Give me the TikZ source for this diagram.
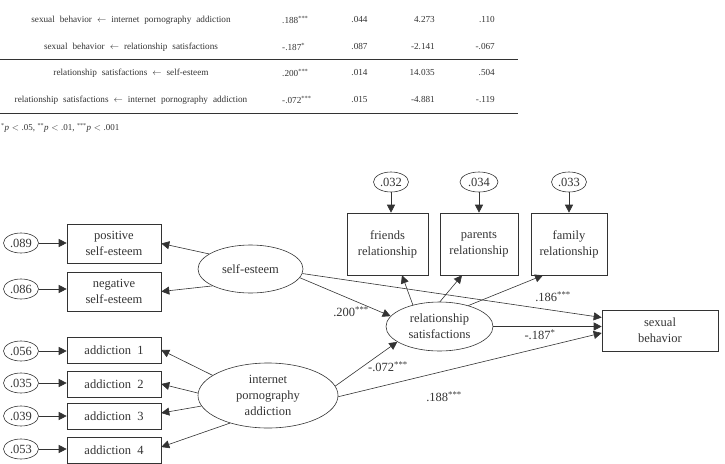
\documentclass[tikz,border=0pt]{standalone}
\usepackage{fontspec}
\setmainfont{Liberation Serif}
\usetikzlibrary{arrows.meta,calc,shapes.geometric}
\definecolor{ink}{HTML}{333333}
\newcommand{\sig}[1]{\textsuperscript{#1}}
\newcommand{\tabfont}{\fontsize{9.2}{11}\selectfont\spaceskip=5pt plus 1pt\relax}
\newcommand{\notefont}{\fontsize{9}{11}\selectfont\spaceskip=2.6pt\relax}
\newcommand{\diafont}{\fontsize{12.5}{16}\selectfont}
\begin{document}
\begin{tikzpicture}[x=1pt,y=-1pt,
  every node/.style={text=ink},
  dfont/.style={font=\diafont},
  tfont/.style={font=\tabfont},
  obs/.style={dfont, draw=ink, line width=0.6pt, inner sep=0pt, align=center, minimum width=94pt},
  err/.style={dfont, ellipse, draw=ink, line width=0.6pt, inner sep=0pt, minimum width=35pt, minimum height=20pt},
  lat/.style={dfont, ellipse, draw=ink, line width=0.6pt, inner sep=0pt, align=center},
  arr/.style={draw=ink, line width=0.6pt, -{Triangle[length=8pt,width=8pt]}},
  lbl/.style={dfont, inner sep=0pt},
  cell/.style={tfont, inner sep=0pt},
]
\useasboundingbox (0,0) rectangle (725,463);

% ---- coefficient table ----
\node[cell] (r1a) at (131,20) {sexual behavior $\leftarrow$ internet pornography addiction};
\node[cell] (r2a) at (131,47) {sexual behavior $\leftarrow$ relationship satisfactions};
\node[cell] (r3a) at (131,73) {relationship satisfactions $\leftarrow$ self-esteem};
\node[cell] (r4a) at (131,100) {relationship satisfactions $\leftarrow$ internet pornography addiction};

\node[cell, anchor=west] (r1b) at (282,20) {.188\sig{***}};
\node[cell, anchor=west] (r2b) at (282,47) {-.187\sig{*}};
\node[cell, anchor=west] (r3b) at (282,73) {.200\sig{***}};
\node[cell, anchor=west] (r4b) at (282,100) {-.072\sig{***}};

\node[cell] (r1c) at (359.5,20) {.044};
\node[cell] (r2c) at (359.5,47) {.087};
\node[cell] (r3c) at (359.5,73) {.014};
\node[cell] (r4c) at (359.5,100) {.015};

\node[cell, anchor=east] (r1d) at (435,20) {4.273};
\node[cell, anchor=east] (r2d) at (435,47) {-2.141};
\node[cell, anchor=east] (r3d) at (435,73) {14.035};
\node[cell, anchor=east] (r4d) at (435,100) {-4.881};

\node[cell, anchor=east] (r1e) at (495,20) {.110};
\node[cell, anchor=east] (r2e) at (495,47) {-.067};
\node[cell, anchor=east] (r3e) at (495,73) {.504};
\node[cell, anchor=east] (r4e) at (495,100) {-.119};

\draw[ink, line width=0.7pt] (0,59) -- (518,59);
\draw[ink, line width=1.5pt] (0,113.5) -- (518,113.5);

\node[font=\notefont, inner sep=0pt, anchor=west] (note) at (1,128) {\sig{*}\textit{p} $<$ .05, \sig{**}\textit{p} $<$ .01, \sig{***}\textit{p} $<$ .001};

% ---- measurement model: self-esteem ----
\node[err] (e089) at (21,243) {.089};
\node[obs, minimum height=39pt] (pos) at (114,243.5) {positive\\self-esteem};
\node[err] (e086) at (21,289) {.086};
\node[obs, minimum height=39pt] (neg) at (114,291.5) {negative\\self-esteem};
\node[lat, minimum width=105pt, minimum height=48pt] (se) at (250.5,269) {self-esteem};

% ---- measurement model: addiction ----
\node[err] (e056) at (21,351) {.056};
\node[obs, minimum height=26pt] (a1) at (114,350) {addiction\ \ 1};
\node[err] (e035) at (21,383) {.035};
\node[obs, minimum height=26pt] (a2) at (114,384) {addiction\ \ 2};
\node[err] (e039) at (21,416) {.039};
\node[obs, minimum height=26pt] (a3) at (114,416) {addiction\ \ 3};
\node[err] (e053) at (21,449) {.053};
\node[obs, minimum height=26pt] (a4) at (114,450) {addiction\ \ 4};
\node[lat, minimum width=140pt, minimum height=65pt] (ipa) at (268,395.5) {internet\\pornography\\addiction};

% ---- measurement model: relationship satisfactions ----
\node[lat, minimum width=107pt, minimum height=49pt] (rs) at (439.5,326.5) {relationship\\satisfactions};
\node[obs, minimum width=81pt, minimum height=62pt] (fr) at (387.5,244) {friends\\relationship};
\node[obs, minimum width=78pt, minimum height=62pt] (pr) at (479,244) {parents\\relationship};
\node[obs, minimum width=76pt, minimum height=62pt] (fa) at (569,244) {family\\relationship};
\node[err] (e032) at (391,182) {.032};
\node[err, minimum width=38pt] (e034) at (479,182) {.034};
\node[err] (e033) at (569,182) {.033};

% ---- outcome ----
\node[obs, minimum width=116pt, minimum height=41pt] (sb) at (660,330.5) {sexual\\behavior};

% ---- error terms ----
\foreach \e/\o in {e089/pos, e086/neg, e056/a1, e035/a2, e039/a3, e053/a4}
  \draw[arr] (\e.east) -- (\e.east -| \o.west);
\foreach \e/\o in {e032/fr, e034/pr, e033/fa}
  \draw[arr] (\e.south) -- (\e.south |- \o.north);

% ---- loadings ----
\draw[arr] (se.160) -- (pos.east);
\draw[arr] (se.204) -- (neg.east);
\draw[arr] (ipa.160) -- (a1.east);
\draw[arr] (ipa.178) -- (a2.east);
\draw[arr] (ipa.189) -- ($(a3.east)+(0,-3)$);
\draw[arr] (ipa.216) -- ($(a4.east)+(0,-3)$);
\draw[arr] (rs.141) -- ($(fr.south)+(14.5,0)$);
\draw[arr] (rs.89) -- ($(pr.south)+(-17,0)$);
\draw[arr] (rs.36) -- ($(fa.south)+(-26,0)$);

% ---- structural paths ----
\draw[arr] (se.-5) -- ($(sb.west)+(0,-13)$);
\draw[arr] (se.-10) -- (rs.168);
\draw[arr] (ipa.8) -- (rs.200);
\draw[arr] (rs.east) -- (rs.east -| sb.west);
\draw[arr] (ipa.-1) -- ($(sb.west)+(0,2.5)$);

% ---- path coefficients ----
\node[lbl] (c200) at (351,312) {.200\sig{***}};
\node[lbl] (c186) at (553,297) {.186\sig{***}};
\node[lbl] (c187) at (540,335) {-.187\sig{*}};
\node[lbl] (c072) at (388,367) {-.072\sig{***}};
\node[lbl] (c188) at (444,397) {.188\sig{***}};
\end{tikzpicture}
\end{document}
